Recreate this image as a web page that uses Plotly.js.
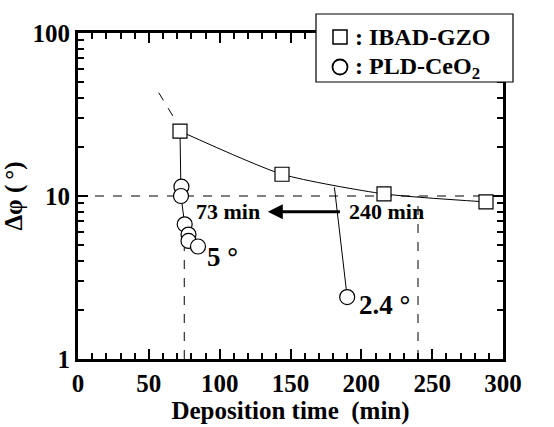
<!DOCTYPE html>
<html><head><meta charset="utf-8">
<script src="https://cdn.plot.ly/plotly-3.0.1.min.js"></script>
<style>html,body{margin:0;padding:0;background:#fff}</style>
</head><body><div id="chart" style="width:554px;height:427px"></div>
<script>
// IBAD-GZO series (squares)
const gzoX = [72, 144, 216, 288];
const gzoY = [25, 13.6, 10.3, 9.2];
// PLD-CeO2 on 73-min template
const ceoAX = [73, 72.7, 75.3, 78, 78, 84.7];
const ceoAY = [11.4, 10.0, 6.7, 5.8, 5.3, 4.9];
// PLD-CeO2 on 240-min template (branch from IBAD curve)
const ceoBX = [190];
const ceoBY = [2.4];
const branchBX = [181, 190];
const branchBY = [11.3, 2.4];
// dashed extrapolation of IBAD curve
const extrapX = [57, 70];
const extrapY = [43, 28];
// reference dashed guides
const hGuideX = [12, 300];
const hGuideY = [10, 10];
const vGuide1X = [75, 75];
const vGuide1Y = [1, 4.8];
const vGuide2X = [240, 240];
const vGuide2Y = [1, 10];
const xTicks = [0, 50, 100, 150, 200, 250, 300];
const yTicks = [1, 10, 100];
const legendLabels = [': IBAD-GZO', ': PLD-CeO<sub>2</sub>'];

const F = 'Liberation Serif, Times New Roman, serif';
const blk = '#000';

const traces = [
  {x: hGuideX, y: hGuideY, mode: 'lines', line: {color: blk, width: 1, dash: 'dash'}},
  {x: vGuide1X, y: vGuide1Y, mode: 'lines', line: {color: blk, width: 1, dash: 'dash'}},
  {x: vGuide2X, y: vGuide2Y, mode: 'lines', line: {color: blk, width: 1, dash: 'dash'}},
  {x: extrapX, y: extrapY, mode: 'lines', line: {color: blk, width: 1, dash: 'dash'}},
  {x: gzoX, y: gzoY, mode: 'lines', line: {color: blk, width: 1, shape: 'spline', smoothing: 0.6}},
  {x: [gzoX[0]].concat(ceoAX), y: [gzoY[0]].concat(ceoAY), mode: 'lines', line: {color: blk, width: 1}},
  {x: branchBX, y: branchBY, mode: 'lines', line: {color: blk, width: 1}},
  {x: gzoX, y: gzoY, mode: 'markers', name: 'IBAD-GZO',
   marker: {symbol: 'square', size: 14, color: '#fff', line: {color: blk, width: 1.2}}},
  {x: ceoAX.concat(ceoBX), y: ceoAY.concat(ceoBY), mode: 'markers', name: 'PLD-CeO2',
   marker: {symbol: 'circle', size: 15, color: '#fff', line: {color: blk, width: 1.2}}}
];

const axisCommon = {
  showline: true, linecolor: blk, linewidth: 3, mirror: 'ticks',
  ticks: 'inside', tickcolor: blk, tickwidth: 2, ticklen: 10,
  showgrid: false, zeroline: false,
  tickfont: {family: F, size: 25, weight: 'bold', color: blk}
};

// legend drawn in pixel-equivalent paper coordinates
const W = 425, H = 326, L = 78, T = 33;
const px = p => (p - L) / W;
const py = p => (T + H - p) / H;

const layout = {
  width: 554, height: 427,
  margin: {l: 78, r: 51, t: 33, b: 68},
  paper_bgcolor: '#fff', plot_bgcolor: '#fff',
  showlegend: false,
  font: {family: F, color: blk},
  xaxis: Object.assign({}, axisCommon, {
    range: [0, 300], tickmode: 'array', tickvals: xTicks, ticktext: xTicks.map(String),
    minor: {dtick: 10, ticks: 'inside', ticklen: 6, tickwidth: 2, tickcolor: blk},
    title: {text: 'Deposition time  (min)', font: {family: F, size: 25, weight: 'bold', color: blk}, standoff: 0}
  }),
  yaxis: Object.assign({}, axisCommon, {
    type: 'log', range: [0, 2], tickmode: 'array', tickvals: yTicks, ticktext: yTicks.map(String),
    minor: {dtick: 'D1', ticks: 'inside', ticklen: 6, tickwidth: 2, tickcolor: blk},
    title: {text: 'Δφ (\u2009°)', font: {family: F, size: 25, weight: 'bold', color: blk}, standoff: 4}
  }),
  shapes: [
    {type: 'rect', xref: 'paper', yref: 'paper', x0: px(316), x1: px(513), y0: py(82), y1: py(14),
     fillcolor: '#fff', line: {color: blk, width: 1.2}, layer: 'above'},
    {type: 'rect', xref: 'paper', yref: 'paper', x0: px(333), x1: px(347), y0: py(44), y1: py(30),
     fillcolor: '#fff', line: {color: blk, width: 1.5}, layer: 'above'},
    {type: 'circle', xref: 'paper', yref: 'paper', x0: px(332.5), x1: px(347.5), y0: py(74.5), y1: py(59.5),
     fillcolor: '#fff', line: {color: blk, width: 1.8}, layer: 'above'}
  ],
  annotations: [
    {x: 134, y: Math.log10(8), ax: 187, ay: Math.log10(8), xref: 'x', yref: 'y', axref: 'x', ayref: 'y',
     showarrow: true, arrowhead: 2, arrowsize: 1, arrowwidth: 3, arrowcolor: blk, text: ' '},
    {x: 106, y: Math.log10(8), text: '73 min', showarrow: false, font: {family: F, size: 22, weight: 'bold', color: blk}},
    {x: 218, y: Math.log10(8), text: '240 min', showarrow: false, font: {family: F, size: 22, weight: 'bold', color: blk}},
    {x: 102, y: Math.log10(4.2), text: '5 °', showarrow: false, font: {family: F, size: 27, weight: 'bold', color: blk}},
    {x: 216, y: Math.log10(2.15), text: '2.4 °', showarrow: false, font: {family: F, size: 27, weight: 'bold', color: blk}},
    {x: px(353), y: py(37), xref: 'paper', yref: 'paper', xanchor: 'left', yanchor: 'middle', text: legendLabels[0],
     showarrow: false, font: {family: F, size: 24, weight: 'bold', color: blk}},
    {x: px(353), y: py(68), xref: 'paper', yref: 'paper', xanchor: 'left', yanchor: 'middle', text: legendLabels[1],
     showarrow: false, font: {family: F, size: 24, weight: 'bold', color: blk}}
  ]
};

Plotly.newPlot('chart', traces, layout, {displayModeBar: false, staticPlot: true});
</script>
</body></html>
